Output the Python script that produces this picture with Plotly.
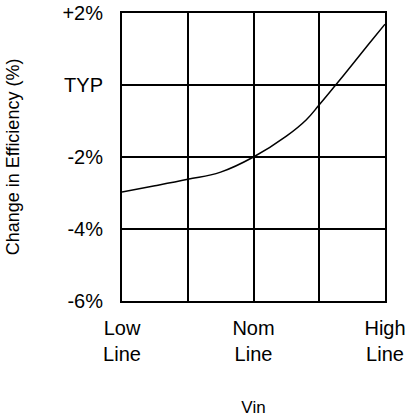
import plotly.graph_objects as go

# Data (x in grid units: 0 = Low Line, 2 = Nom Line, 4 = High Line)
vin_pos = [0, 0.5, 1, 1.5, 2, 2.5, 2.8, 3, 3.25, 3.5, 3.75, 4]
eff_change = [-2.97, -2.8, -2.62, -2.42, -2.0, -1.42, -0.97, -0.55, 0.0, 0.56, 1.13, 1.69]

x_tickvals = [0, 2, 4]
x_ticktext = ["Low<br>Line", "Nom<br>Line", "High<br>Line"]
y_tickvals = [2, 0, -2, -4, -6]
y_ticktext = ["+2%", "TYP", "-2%", "-4%", "-6%"]

FONT = "Liberation Sans, Arial, Helvetica, sans-serif"

fig = go.Figure()
fig.add_trace(go.Scatter(
    x=vin_pos, y=eff_change, mode="lines",
    line=dict(color="black", width=1.5, shape="spline", smoothing=1.2),
    showlegend=False, hoverinfo="skip",
))

fig.update_layout(
    width=407, height=418,
    margin=dict(l=122, r=22, t=13, b=117, autoexpand=False),
    paper_bgcolor="white", plot_bgcolor="white",
    font=dict(family=FONT, color="black"),
)
fig.update_xaxes(
    range=[0, 4], tickmode="array", tickvals=x_tickvals, ticktext=x_ticktext,
    tickfont=dict(size=20, family=FONT, color="black"),
    showgrid=True, gridcolor="black", gridwidth=2,
    showline=True, linecolor="black", linewidth=2, mirror=True,
    zeroline=False, ticks="", ticklabelstandoff=8, automargin=False,
    ticklabeloverflow="allow",
    title=dict(text="Vin", font=dict(size=17, family=FONT, color="black"), standoff=37),
    minor=dict(showgrid=True, tickvals=[1, 3], gridcolor="black", gridwidth=2),
    fixedrange=True,
)
fig.update_yaxes(
    range=[-6, 2], tickmode="array", tickvals=y_tickvals, ticktext=y_ticktext,
    tickfont=dict(size=20, family=FONT, color="black"),
    showgrid=True, gridcolor="black", gridwidth=2,
    showline=True, linecolor="black", linewidth=2, mirror=True,
    zeroline=False, ticks="", ticklabelstandoff=13, automargin=False,
    ticklabeloverflow="allow",
    title=dict(text="Change in Efficiency (%)", font=dict(size=18, family=FONT, color="black"), standoff=38),
    fixedrange=True,
)

fig.write_html(
    "out.html",
    config={"displayModeBar": False, "staticPlot": True},
    post_script="document.body.style.margin='0';document.body.style.overflow='hidden';",
)
